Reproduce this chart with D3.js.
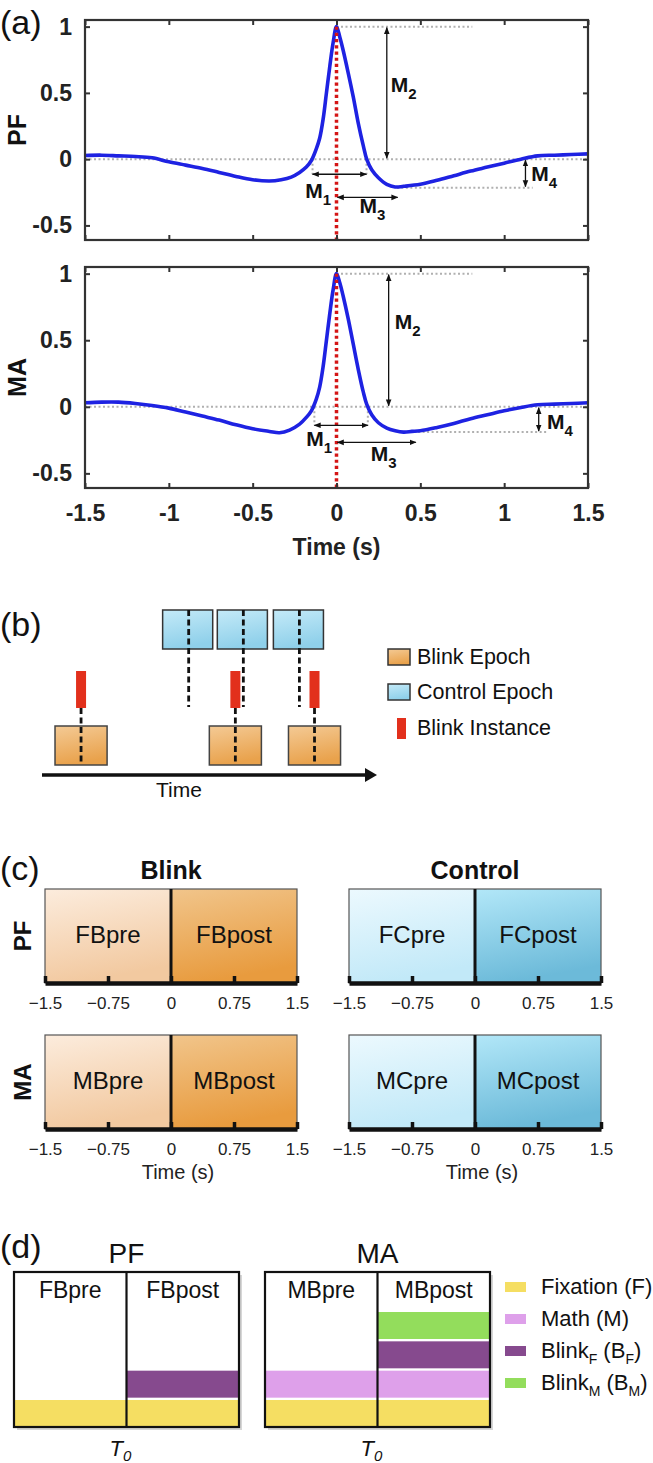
<!DOCTYPE html>
<html><head><meta charset="utf-8">
<script src="https://cdn.jsdelivr.net/npm/d3@7"></script>
<style>
body{margin:0;background:#fff}
svg{display:block}
text{font-family:"Liberation Sans",Arial,Helvetica,sans-serif}
</style>
</head><body>
<svg id="fig" width="653" height="1463"></svg>
<script>
// ---------------- DATA ----------------
// Panel (a): normalised PF and MA blink responses
const timePF  = [-1.5,-1.4,-1.3,-1.2,-1.1,-1.0,-0.9,-0.8,-0.7,-0.6,-0.5,-0.4,-0.33,-0.27,-0.22,-0.18,-0.15,-0.12,-0.1,-0.08,-0.06,-0.04,-0.02,0,0.02,0.04,0.07,0.1,0.13,0.16,0.18,0.21,0.25,0.3,0.35,0.4,0.5,0.6,0.7,0.8,0.9,1.0,1.1,1.2,1.3,1.4,1.5];
const valuePF = [0.028,0.03,0.025,0.02,0.01,-0.02,-0.045,-0.07,-0.1,-0.13,-0.155,-0.165,-0.155,-0.135,-0.1,-0.06,-0.01,0.08,0.16,0.3,0.5,0.7,0.88,1.0,0.92,0.82,0.65,0.47,0.27,0.1,0.0,-0.08,-0.14,-0.19,-0.21,-0.205,-0.19,-0.16,-0.125,-0.09,-0.06,-0.03,0.0,0.025,0.03,0.035,0.04];
const timeMA  = [-1.5,-1.4,-1.3,-1.2,-1.1,-1.0,-0.9,-0.8,-0.7,-0.6,-0.5,-0.4,-0.34,-0.28,-0.22,-0.18,-0.15,-0.12,-0.1,-0.08,-0.06,-0.04,-0.02,0,0.02,0.04,0.07,0.1,0.13,0.16,0.18,0.21,0.25,0.3,0.35,0.4,0.45,0.5,0.6,0.7,0.8,0.9,1.0,1.1,1.2,1.3,1.4,1.5];
const valueMA = [0.03,0.035,0.035,0.025,0.01,-0.01,-0.04,-0.07,-0.1,-0.135,-0.165,-0.185,-0.195,-0.175,-0.13,-0.08,-0.03,0.06,0.15,0.3,0.5,0.7,0.88,1.0,0.93,0.83,0.66,0.47,0.28,0.11,0.02,-0.06,-0.12,-0.16,-0.18,-0.19,-0.185,-0.18,-0.155,-0.125,-0.09,-0.06,-0.03,-0.005,0.015,0.02,0.025,0.03];
const xTicksA = [-1.5,-1,-0.5,0,0.5,1,1.5];
const yTicksA = [-0.5,0,0.5,1];
// measures M1..M4 (data units): zero crossings, levels, minimum
const marksPF = {zL:-0.143, zR:0.179, m1y:-0.114, m2t:0.30, m3y:-0.288, m3t:0.365, minV:-0.215, minFrom:0.36, minTo:1.17, peakTo:0.81, m4t:1.127,
  lab:{M1:[-0.187,-0.294],M2:[0.323,0.51],M3:[0.137,-0.407],M4:[1.162,-0.168]}};
const marksMA = {zL:-0.132, zR:0.187, m1y:-0.139, m2t:0.311, m3y:-0.267, m3t:0.473, minV:-0.19, minFrom:0.46, minTo:1.256, peakTo:0.81, m4t:1.206,
  lab:{M1:[-0.18,-0.297],M2:[0.348,0.584],M3:[0.204,-0.41],M4:[1.256,-0.17]}};

// Panel (b): timeline (seconds)
const timelineEnd = 19.3;
const blinkTimes = [2.25, 11.14, 15.7];
const controlCenters = [8.45, 11.6, 14.83];
const epochHalf = 1.5;
const legendB = ["Blink Epoch","Control Epoch","Blink Instance"];

// Panel (c)
const cTicks = [-1.5,-0.75,0,0.75,1.5];
const cTickLabels = ["\u22121.5","\u22120.75","0","0.75","1.5"];
const cRowsLabels = ["PF","MA"];
const blinkSegLabels = [["FBpre","FBpost"],["MBpre","MBpost"]];
const controlSegLabels = [["FCpre","FCpost"],["MCpre","MCpost"]];

// Panel (d)
const dLayerKeys = ["F","M","BF","BM"];
const dPFpre = ["F"], dPFpost = ["F","BF"];
const dMApre = ["F","M"], dMApost = ["F","M","BF","BM"];
const dLegend = [["Fixation (F)"],["Math (M)"],["Blink","F"," (B","F",")"],["Blink","M"," (B","M",")"]];

// ---------------- DRAW ----------------
const svg = d3.select("#fig");
const defs = svg.append("defs");
const FONT = '"Liberation Sans",Arial,Helvetica,sans-serif';

function grad(id, c1, c2){
  const g = defs.append("linearGradient").attr("id",id).attr("x1",0).attr("y1",0).attr("x2",0.25).attr("y2",1);
  g.append("stop").attr("offset","0%").attr("stop-color",c1);
  g.append("stop").attr("offset","100%").attr("stop-color",c2);
}
grad("gBpre","#fcecdd","#f2c9a0");
grad("gBpost","#f1c58b","#e89b3e");
grad("gCpre","#ecf9fe","#c2e9f8");
grad("gCpost","#b2e7f8","#6cbad9");
grad("gOr","#f4ca95","#e9a24c");
grad("gBl","#c4eaf8","#8fd0ea");

defs.append("marker").attr("id","arr").attr("viewBox","0 0 10 10").attr("refX",9).attr("refY",5)
  .attr("markerWidth",7).attr("markerHeight",7).attr("markerUnits","userSpaceOnUse").attr("orient","auto-start-reverse")
  .append("path").attr("d","M0,1 L10,5 L0,9 z").attr("fill","#111");

function panelLabel(t, x, y){
  svg.append("text").attr("x",x).attr("y",y).attr("font-size",34).attr("fill","#111").text(t);
}

// ---------- Panel (a) ----------
const xA = d3.scaleLinear().domain([-1.5,1.5]).range([85,588]);
function drawA(top, bottom, times, vals, marks, ylab, showX){
  const y = d3.scaleLinear().domain([-0.61,1.05]).range([bottom, top]);
  const g = svg.append("g");
  const gray = (x1,y1,x2,y2)=>g.append("line").attr("x1",x1).attr("y1",y1).attr("x2",x2).attr("y2",y2)
      .attr("stroke","#b0b0b0").attr("stroke-width",2).attr("stroke-dasharray","2,2.5");
  gray(xA(-1.5), y(0), xA(1.5), y(0));
  gray(xA(0), y(1), xA(marks.peakTo), y(1));
  gray(xA(marks.minFrom), y(marks.minV), xA(marks.minTo), y(marks.minV));
  gray(xA(marks.zL), y(0), xA(marks.zL), y(marks.m1y));
  gray(xA(marks.zR), y(0), xA(marks.zR), y(marks.m1y));
  const line = d3.line().x((d,i)=>xA(times[i])).y((d,i)=>y(vals[i])).curve(d3.curveCatmullRom.alpha(0.5));
  g.append("path").attr("d", line(vals)).attr("fill","none").attr("stroke","#1e22e2").attr("stroke-width",3.6).attr("stroke-linejoin","round");
  g.append("line").attr("x1",xA(0)).attr("x2",xA(0)).attr("y1",y(1)).attr("y2",bottom)
    .attr("stroke","#d41515").attr("stroke-width",3.5).attr("stroke-dasharray","3.2,3");
  const arrow = (x1,y1,x2,y2)=>g.append("line").attr("x1",x1).attr("y1",y1).attr("x2",x2).attr("y2",y2)
      .attr("stroke","#111").attr("stroke-width",1.3).attr("marker-start","url(#arr)").attr("marker-end","url(#arr)");
  arrow(xA(marks.zL), y(marks.m1y), xA(marks.zR), y(marks.m1y));
  arrow(xA(marks.m2t), y(1)+1, xA(marks.m2t), y(0)-1);
  arrow(xA(0)+1, y(marks.m3y), xA(marks.m3t), y(marks.m3y));
  arrow(xA(marks.m4t), y(0)+1, xA(marks.m4t), y(marks.minV)-1);
  Object.entries(marks.lab).forEach(([k,p])=>{
    const t = g.append("text").attr("x",xA(p[0])).attr("y",y(p[1])).attr("font-size",21).attr("font-weight","bold").attr("fill","#111");
    t.append("tspan").text("M");
    t.append("tspan").attr("dy",7).attr("font-size",15).attr("font-weight","bold").text(k.slice(1));
  });
  g.append("rect").attr("x",xA(-1.5)).attr("y",top).attr("width",xA(1.5)-xA(-1.5)).attr("height",bottom-top)
    .attr("fill","none").attr("stroke","#333").attr("stroke-width",2.2);
  const axB = d3.axisBottom(xA).tickValues(xTicksA).tickSize(-5).tickPadding(17).tickFormat(d=>showX?String(d):"");
  const axT = d3.axisTop(xA).tickValues(xTicksA).tickSize(-5).tickFormat("");
  const axL = d3.axisLeft(y).tickValues(yTicksA).tickSize(-5).tickPadding(13).tickFormat(d=>String(d));
  const axR = d3.axisRight(y).tickValues(yTicksA).tickSize(-5).tickFormat("");
  [[axB,`translate(0,${bottom})`],[axT,`translate(0,${top})`],[axL,`translate(${xA(-1.5)},0)`],[axR,`translate(${xA(1.5)},0)`]].forEach(([ax,tr])=>{
    const a = g.append("g").attr("transform",tr).call(ax);
    a.select(".domain").remove();
    a.selectAll(".tick line").attr("stroke","#333").attr("stroke-width",2);
    a.selectAll(".tick text").attr("font-size",23).attr("font-weight","bold").attr("fill","#222").attr("font-family",FONT);
  });
  g.append("text").attr("transform",`translate(26,${(top+bottom)/2}) rotate(-90)`).attr("text-anchor","middle")
    .attr("font-size",25).attr("font-weight","bold").attr("fill","#111").text(ylab);
}
drawA(20,240,timePF,valuePF,marksPF,"PF",false);
drawA(267,488,timeMA,valueMA,marksMA,"MA",true);
svg.append("text").attr("x",xA(0)).attr("y",555).attr("text-anchor","middle").attr("font-size",23).attr("font-weight","bold").attr("fill","#222").text("Time (s)");
panelLabel("(a)",0,34);

// ---------- Panel (b) ----------
panelLabel("(b)",0,636);
const xB = d3.scaleLinear().domain([0,timelineEnd]).range([42,377]);
const gb = svg.append("g");
const dash = (x,y1,y2)=>gb.append("line").attr("x1",x).attr("x2",x).attr("y1",y1).attr("y2",y2)
   .attr("stroke","#111").attr("stroke-width",2.8).attr("stroke-dasharray","6,3.5");
controlCenters.forEach(c=>{
  gb.append("rect").attr("x",xB(c-epochHalf)).attr("y",610).attr("width",xB(c+epochHalf)-xB(c-epochHalf)-2).attr("height",39)
    .attr("fill","url(#gBl)").attr("stroke","#333").attr("stroke-width",1.5);
});
controlCenters.forEach(c=>dash(xB(c),610,707));
blinkTimes.forEach(b=>{
  gb.append("rect").attr("x",xB(b-epochHalf)).attr("y",726).attr("width",xB(b+epochHalf)-xB(b-epochHalf)).attr("height",39)
    .attr("fill","url(#gOr)").attr("stroke","#444").attr("stroke-width",1.5);
  dash(xB(b),708,765);
  gb.append("rect").attr("x",xB(b)-5).attr("y",671).attr("width",10).attr("height",37).attr("fill","#e2301c");
});
gb.append("line").attr("x1",xB(0)).attr("x2",xB(timelineEnd)-8).attr("y1",775).attr("y2",775).attr("stroke","#111").attr("stroke-width",3.5);
gb.append("path").attr("d",`M${xB(timelineEnd)},775 L${xB(timelineEnd)-12},768 L${xB(timelineEnd)-12},782 Z`).attr("fill","#111");
gb.append("text").attr("x",179).attr("y",797).attr("text-anchor","middle").attr("font-size",21).attr("fill","#111").text("Time");
legendB.forEach((t,i)=>{
  const cy = [657,692,728][i];
  if(i<2){
    gb.append("rect").attr("x",388).attr("y",cy-8).attr("width",22).attr("height",16)
      .attr("fill",i===0?"url(#gOr)":"url(#gBl)").attr("stroke","#333").attr("stroke-width",1.5);
  } else {
    gb.append("rect").attr("x",397).attr("y",cy-10).attr("width",9).attr("height",21).attr("fill","#e2301c");
  }
  gb.append("text").attr("x",417).attr("y",cy+7).attr("font-size",21.5).attr("fill","#111").text(t);
});

// ---------- Panel (c) ----------
panelLabel("(c)",0,880);
const gc = svg.append("g");
const cCols = [{x0:45,x1:297,title:"Blink",labels:blinkSegLabels,g:["gBpre","gBpost"]},
               {x0:349,x1:601,title:"Control",labels:controlSegLabels,g:["gCpre","gCpost"]}];
const cRowTops = [889,1035], cH = 94;
cCols.forEach(col=>{
  const x = d3.scaleLinear().domain([-1.5,1.5]).range([col.x0,col.x1]);
  gc.append("text").attr("x",x(0)).attr("y",879).attr("text-anchor","middle").attr("font-size",25).attr("font-weight","bold").attr("fill","#111").text(col.title);
  cRowsLabels.forEach((r,ri)=>{
    const top = cRowTops[ri], ax = top+cH;
    [[-1.5,0],[0,1.5]].forEach((seg,si)=>{
      gc.append("rect").attr("x",x(seg[0])).attr("y",top).attr("width",x(seg[1])-x(seg[0])).attr("height",cH)
        .attr("fill",`url(#${col.g[si]})`);
      gc.append("text").attr("x",(x(seg[0])+x(seg[1]))/2).attr("y",top+54).attr("text-anchor","middle")
        .attr("font-size",24).attr("fill","#111").text(col.labels[ri][si]);
    });
    gc.append("rect").attr("x",x(-1.5)).attr("y",top).attr("width",x(1.5)-x(-1.5)).attr("height",cH)
      .attr("fill","none").attr("stroke","#555").attr("stroke-width",1.2);
    gc.append("line").attr("x1",x(0)).attr("x2",x(0)).attr("y1",top).attr("y2",ax).attr("stroke","#111").attr("stroke-width",3);
    const a = gc.append("g").attr("transform",`translate(0,${ax})`)
      .call(d3.axisBottom(x).tickValues(cTicks).tickFormat((d,i)=>cTickLabels[i]).tickSizeInner(-7).tickSizeOuter(0).tickPadding(14));
    a.select(".domain").attr("stroke","#111").attr("stroke-width",4.5);
    a.selectAll(".tick line").attr("stroke","#111").attr("stroke-width",3.5);
    a.selectAll(".tick text").attr("font-size",17).attr("fill","#222").attr("font-family",FONT);
    if(ri===1){
      gc.append("text").attr("x",x(0)+7).attr("y",1179).attr("text-anchor","middle").attr("font-size",20).attr("fill","#222").text("Time (s)");
    }
  });
});
cRowsLabels.forEach((r,ri)=>{
  gc.append("text").attr("transform",`translate(31,${cRowTops[ri]+cH/2}) rotate(-90)`).attr("text-anchor","middle")
    .attr("font-size",24).attr("font-weight","bold").attr("fill","#111").text(r);
});

// ---------- Panel (d) ----------
panelLabel("(d)",0,1258);
const gd = svg.append("g");
const layerColor = d3.scaleOrdinal().domain(dLayerKeys).range(["#f5de62","#dea0ea","#864a8e","#93dd5c"]);
const dTop = 1272, dBot = 1427;
const lev = d3.scaleBand().domain([0,1,2,3]).range([dBot, 1312]).paddingInner(0.08);
const dBoxes = [
  {x0:14,x1:239,title:"PF",labels:["FBpre","FBpost"],layers:[dPFpre,dPFpost]},
  {x0:265,x1:490,title:"MA",labels:["MBpre","MBpost"],layers:[dMApre,dMApost]}
];
dBoxes.forEach(b=>{
  const x = d3.scaleLinear().domain([-1.5,1.5]).range([b.x0,b.x1]);
  gd.append("rect").attr("x",x(-1.5)+3).attr("y",dTop+3).attr("width",x(1.5)-x(-1.5)).attr("height",dBot-dTop).attr("fill","#d6d6d6");
  gd.append("rect").attr("x",x(-1.5)).attr("y",dTop).attr("width",x(1.5)-x(-1.5)).attr("height",dBot-dTop).attr("fill","#fff");
  [[-1.5,0],[0,1.5]].forEach((seg,si)=>{
    b.layers[si].forEach((k,li)=>{
      gd.append("rect").attr("x",x(seg[0])).attr("y",lev(li)).attr("width",x(seg[1])-x(seg[0])).attr("height",lev.bandwidth())
        .attr("fill",layerColor(k));
    });
    gd.append("text").attr("x",(x(seg[0])+x(seg[1]))/2).attr("y",1298).attr("text-anchor","middle")
      .attr("font-size",23).attr("fill","#111").text(b.labels[si]);
  });
  gd.append("rect").attr("x",x(-1.5)).attr("y",dTop).attr("width",x(1.5)-x(-1.5)).attr("height",dBot-dTop)
    .attr("fill","none").attr("stroke","#111").attr("stroke-width",2.2);
  gd.append("line").attr("x1",x(0)).attr("x2",x(0)).attr("y1",dTop).attr("y2",dBot).attr("stroke","#111").attr("stroke-width",2.2);
  gd.append("text").attr("x",(x(-1.5)+x(1.5))/2).attr("y",1263).attr("text-anchor","middle").attr("font-size",28).attr("fill","#111").text(b.title);
  const t0 = gd.append("text").attr("x",x(0)-6).attr("y",1456).attr("text-anchor","middle").attr("font-size",22).attr("font-style","italic").attr("fill","#111");
  t0.append("tspan").text("T");
  t0.append("tspan").attr("dy",5).attr("font-size",15).text("0");
});
dLegend.forEach((parts,i)=>{
  const cy = [1287,1319,1351,1383][i];
  gd.append("rect").attr("x",505).attr("y",cy-5).attr("width",21).attr("height",10).attr("fill",layerColor(dLayerKeys[i]));
  const t = gd.append("text").attr("x",541).attr("y",cy+7).attr("font-size",22).attr("fill","#111");
  parts.forEach((p,pi)=>{
    const sp = t.append("tspan").text(p);
    if(pi===1||pi===3){ sp.attr("font-size",14).attr("dy",6); }
    if(pi===2||pi===4){ sp.attr("dy",-6); }
  });
});
</script>
</body></html>
